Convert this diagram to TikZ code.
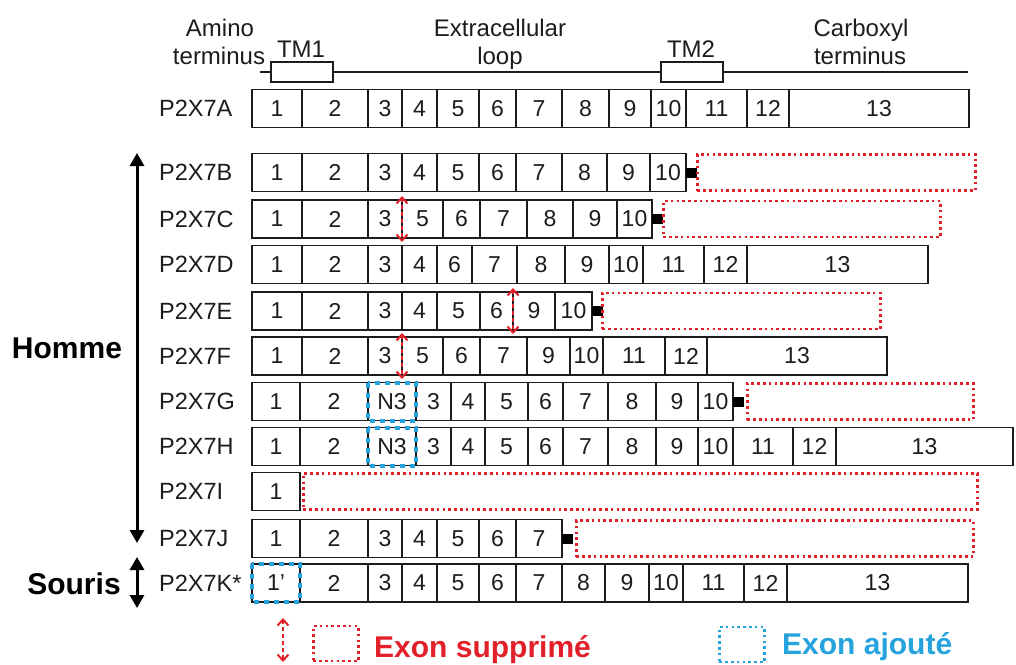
\documentclass[tikz,border=0pt]{standalone}
\usepackage{fontspec}
\setmainfont{Liberation Sans}
\usetikzlibrary{arrows.meta}
\definecolor{delred}{RGB}{226,32,42}
\definecolor{addblue}{RGB}{38,162,220}
\definecolor{ink}{RGB}{28,28,28}
\newcommand\exonrow[3]{%
  \foreach \a/\b/\t [count=\i] in {#3} {%
    \node[exon, minimum width={(\b-\a)*1pt}] (#1-\i) at ({(\a+\b)/2}, #2) {\t};
  }}
\begin{document}
\begin{tikzpicture}[x=1pt,y=-1pt,
  exon/.style={draw=ink, line width=1.6pt, inner sep=0pt, outer sep=0pt,
    minimum height=38pt, font=\fontsize{23}{26}\selectfont, text=ink},
  rowlabel/.style={anchor=west, inner sep=0pt, font=\fontsize{23.5}{26}\selectfont, text=ink},
  headtext/.style={anchor=base, inner sep=0pt, font=\fontsize{24}{26}\selectfont, text=ink},
  tmbox/.style={draw=ink, line width=1.6pt, fill=white, inner sep=0pt,
    minimum width=62pt, minimum height=20pt},
  stopsq/.style={fill=black, inner sep=0pt, outer sep=0pt, minimum width=11pt, minimum height=10pt, anchor=west},
  delbox/.style={draw=delred, line width=2.6pt, dash pattern=on 2.6pt off 3.2pt,
    inner sep=0pt, minimum height=36pt, anchor=west},
  addline/.style={draw=addblue, line width=4pt, dash pattern=on 5pt off 5pt},
  delarrow/.style={draw=delred, line width=2pt, dash pattern=on 4pt off 3pt,
    {Straight Barb[length=6pt,width=11pt,line width=2pt]}-{Straight Barb[length=6pt,width=11pt,line width=2pt]}},
  bigarrow/.style={draw=black, line width=3pt,
    {Triangle[length=13pt,width=14pt]}-{Triangle[length=13pt,width=14pt]}},
  bold/.style={inner sep=0pt, font=\fontsize{30}{32}\selectfont\bfseries}
]
\useasboundingbox (0,0) rectangle (1016,664);

% header
\coordinate (lineL) at (260,72);
\coordinate (lineR) at (968,72);
\draw[ink, line width=1.8pt] (lineL) -- (lineR);
\node[tmbox] (tm1) at (302,72) {};
\node[tmbox] (tm2) at (692,72) {};
\node[headtext] (amino) at (220,36) {Amino};
\node[headtext] (nterm) at (219,64) {terminus};
\node[headtext] (tm1t) at (301,57) {TM1};
\node[headtext] (extra) at (500,36) {Extracellular};
\node[headtext] (loop) at (500,64) {loop};
\node[headtext] (tm2t) at (691,57) {TM2};
\node[headtext] (carb) at (861,36) {Carboxyl};
\node[headtext] (cterm) at (860,64) {terminus};

% row labels
\node[rowlabel] (lA) at (159,108.5) {P2X7A};
\node[rowlabel] (lB) at (159,172.5) {P2X7B};
\node[rowlabel] (lC) at (159,219) {P2X7C};
\node[rowlabel] (lD) at (159,264.5) {P2X7D};
\node[rowlabel] (lE) at (159,311) {P2X7E};
\node[rowlabel] (lF) at (159,356) {P2X7F};
\node[rowlabel] (lG) at (159,401.5) {P2X7G};
\node[rowlabel] (lH) at (159,446.5) {P2X7H};
\node[rowlabel] (lI) at (159,491.5) {P2X7I};
\node[rowlabel] (lJ) at (159,538.5) {P2X7J};
\node[rowlabel] (lK) at (159,583) {P2X7K*};

% exon rows
\exonrow{rA}{108.5}{252/302/1, 302/368/2, 368/402/3, 402/437/4, 437/479/5, 479/516/6, 516/562/7, 562/609/8, 609/651/9, 651/686/10, 686/747/11, 747/789/12, 789/969/13}
\exonrow{rB}{172.5}{252/302/1, 302/368/2, 368/402/3, 402/437/4, 437/479/5, 479/516/6, 516/562/7, 562/607/8, 607/650/9, 650/686/10}
\exonrow{rC}{219}{252/302/1, 302/368/2, 368/402/3, 402/443/5, 443/480/6, 480/527/7, 527/573/8, 573/617/9, 617/652/10}
\exonrow{rD}{264.5}{252/302/1, 302/368/2, 368/402/3, 402/437/4, 437/472/6, 472/517/7, 517/565/8, 565/609/9, 609/643/10, 643/704/11, 704/747/12, 747/928/13}
\exonrow{rE}{311}{252/302/1, 302/368/2, 368/402/3, 402/437/4, 437/480/5, 480/513/6, 513/555/9, 555/592/10}
\exonrow{rF}{356}{252/302/1, 302/368/2, 368/402/3, 402/443/5, 443/480/6, 480/527/7, 527/570/9, 570/603/10, 603/665/11, 665/707/12, 707/887/13}
\exonrow{rG}{401.5}{252/300/1, 300/368/2, 368/416/N3, 416/451/3, 451/485/4, 485/528/5, 528/563/6, 563/608/7, 608/656/8, 656/698/9, 698/733/10}
\exonrow{rH}{446.5}{252/300/1, 300/368/2, 368/416/N3, 416/451/3, 451/485/4, 485/528/5, 528/563/6, 563/608/7, 608/656/8, 656/698/9, 698/733/10, 733/793/11, 793/836/12, 836/1013/13}
\exonrow{rI}{491.5}{252/300/1}
\exonrow{rJ}{538.5}{252/300/1, 300/368/2, 368/402/3, 402/437/4, 437/479/5, 479/516/6, 516/562/7}
\exonrow{rK}{583}{252/300/1’, 300/368/2, 368/402/3, 402/437/4, 437/479/5, 479/516/6, 516/562/7, 562/605/8, 605/649/9, 649/683/10, 683/744/11, 744/787/12, 787/968/13}

% stop squares and deleted parts
\node[stopsq] (sB) at (rB-10.east) {};
\node[delbox, minimum width=278pt] (dB) at ([xshift=-1pt]sB.east) {};
\node[stopsq] (sC) at (rC-9.east) {};
\node[delbox, minimum width=277pt] (dC) at ([xshift=-1pt]sC.east) {};
\node[stopsq] (sE) at (rE-8.east) {};
\node[delbox, minimum width=278pt] (dE) at ([xshift=-2pt]sE.east) {};
\node[stopsq] (sG) at (rG-11.east) {};
\node[delbox, minimum width=226pt] (dG) at ([xshift=2pt]sG.east) {};
\node[delbox, minimum width=674pt] (dI) at ([xshift=2pt]rI-1.east) {};
\node[stopsq] (sJ) at (rJ-7.east) {};
\node[delbox, minimum width=397pt] (dJ) at ([xshift=2pt]sJ.east) {};

% added exons
\draw[addline] (rG-3.north west) rectangle (rG-3.south east);
\draw[addline] (rH-3.north west) rectangle (rH-3.south east);
\draw[addline] (rK-1.north west) rectangle (rK-1.south east);

% deletion arrows
\draw[delarrow] ([yshift=4pt]rC-3.north east) -- ([yshift=-4pt]rC-3.south east);
\draw[delarrow] ([yshift=4pt]rE-6.north east) -- ([yshift=-4pt]rE-6.south east);
\draw[delarrow] ([yshift=4pt]rF-3.north east) -- ([yshift=-4pt]rF-3.south east);

% species arrows
\coordinate (hTop) at (137,153);
\coordinate (hBot) at (137,543);
\draw[bigarrow] (hTop) -- (hBot);
\node[bold] (homme) at (67,348) {Homme};
\coordinate (sTop) at (137,557);
\coordinate (sBot) at (137,608);
\draw[bigarrow] (sTop) -- (sBot);
\node[bold] (souris) at (74,584) {Souris};

% legend
\coordinate (legT) at (283,618);
\coordinate (legB) at (283,662);
\draw[delarrow] (legT) -- (legB);
\node[delbox, minimum width=45pt, minimum height=35pt] (legDel) at (312,643.5) {};
\node[bold, anchor=base west, text=delred] (legDelT) at (374,657) {Exon supprimé};
\node[draw=addblue, line width=2.6pt, dash pattern=on 2.6pt off 3.2pt, inner sep=0pt,
  minimum width=45pt, minimum height=35pt, anchor=west] (legAdd) at (718,644.5) {};
\node[bold, anchor=base west, text=addblue] (legAddT) at (782,654) {Exon ajouté};
\end{tikzpicture}
\end{document}
